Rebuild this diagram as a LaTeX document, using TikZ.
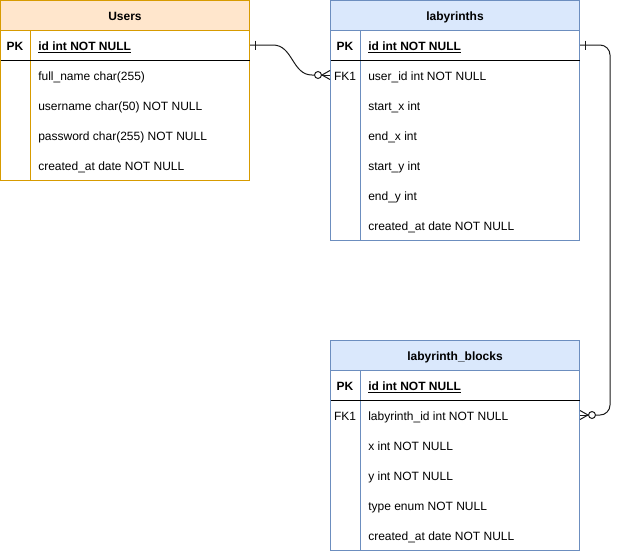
\documentclass[tikz,border=0pt]{standalone}
\usepackage{fontspec}
\setmainfont{Liberation Sans}
\usetikzlibrary{calc}
\definecolor{ufill}{HTML}{FFE6CC}
\definecolor{ubord}{HTML}{D79B00}
\definecolor{lfill}{HTML}{DAE8FC}
\definecolor{lbord}{HTML}{6C8EBF}
\definecolor{conncol}{HTML}{1A1A1A}
\begin{document}
\begin{tikzpicture}[x=0.75pt,y=-0.75pt,
  font=\fontsize{9}{11}\selectfont,
  tbox/.style={draw, line width=0.75pt, inner sep=0pt, minimum width=186.75pt},
  htxt/.style={font=\fontsize{9}{11}\selectfont\bfseries, text height=7.5pt, text depth=0pt},
  keytxt/.style={inner sep=0pt, text height=7.5pt, text depth=0pt, font=\fontsize{9}{11}\selectfont\bfseries},
  fktxt/.style={inner sep=0pt, text height=7.5pt, text depth=0pt},
  fieldtxt/.style={inner sep=0pt, anchor=west, text height=7.5pt, text depth=0pt},
  sepline/.style={line width=0.75pt},
  conn/.style={draw=conncol, line width=0.75pt},
]
\useasboundingbox (0,0) rectangle (620,551);

% ---------- Users ----------
\node[tbox, draw=ubord, minimum height=112.5pt] (ubody) at (125,105) {};
\node[tbox, draw=ubord, fill=ufill, minimum height=22.125pt] (uhead) at (125,15.25) {};
\node[htxt] (uname) at (125,15) {Users};
\draw[sepline, ubord] (30,30) -- (30,179.5);
\draw[sepline, black] (0.5,60) -- (249.5,60);
\node[keytxt] (uk1) at (15,45) {PK};
\node[fieldtxt, font=\fontsize{9}{11}\selectfont\bfseries] (u1) at (38,45) {\underline{id int NOT NULL}};
\node[fieldtxt] (u2) at (38,75) {full\_name char(255)};
\node[fieldtxt] (u3) at (38,105) {username char(50) NOT NULL};
\node[fieldtxt] (u4) at (38,135) {password char(255) NOT NULL};
\node[fieldtxt] (u5) at (38,165) {created\_at date NOT NULL};

% ---------- labyrinths ----------
\node[tbox, draw=lbord, minimum height=157.5pt] (lbody) at (455,135) {};
\node[tbox, draw=lbord, fill=lfill, minimum height=22.125pt] (lhead) at (455,15.25) {};
\node[htxt] (lname) at (455,15) {labyrinths};
\draw[sepline, lbord] (360,30) -- (360,239.5);
\draw[sepline, black] (330.5,60) -- (579.5,60);
\node[keytxt] (lk1) at (345,45) {PK};
\node[fktxt] (lk2) at (345,75) {FK1};
\node[fieldtxt, font=\fontsize{9}{11}\selectfont\bfseries] (l1) at (368,45) {\underline{id int NOT NULL}};
\node[fieldtxt] (l2) at (368,75) {user\_id int NOT NULL};
\node[fieldtxt] (l3) at (368,105) {start\_x int};
\node[fieldtxt] (l4) at (368,135) {end\_x int};
\node[fieldtxt] (l5) at (368,165) {start\_y int};
\node[fieldtxt] (l6) at (368,195) {end\_y int};
\node[fieldtxt] (l7) at (368,225) {created\_at date NOT NULL};

% ---------- labyrinth_blocks ----------
\node[tbox, draw=lbord, minimum height=135pt] (bbody) at (455,460) {};
\node[tbox, draw=lbord, fill=lfill, minimum height=22.5pt] (bhead) at (455,355) {};
\node[htxt] (bname) at (455,355) {labyrinth\_blocks};
\draw[sepline, lbord] (360,370) -- (360,550);
\draw[sepline, black] (330.5,400) -- (579.5,400);
\node[keytxt] (bk1) at (345,385) {PK};
\node[fktxt] (bk2) at (345,415) {FK1};
\node[fieldtxt, font=\fontsize{9}{11}\selectfont\bfseries] (b1) at (368,385) {\underline{id int NOT NULL}};
\node[fieldtxt] (b2) at (368,415) {labyrinth\_id int NOT NULL};
\node[fieldtxt] (b3) at (368,445) {x int NOT NULL};
\node[fieldtxt] (b4) at (368,475) {y int NOT NULL};
\node[fieldtxt] (b5) at (368,505) {type enum NOT NULL};
\node[fieldtxt] (b6) at (368,535) {created\_at date NOT NULL};

% ---------- connectors ----------
\coordinate (e1a) at (ubody.east |- u1);
\coordinate (e1b) at (lbody.west |- l2);
\coordinate (e2a) at (lbody.east |- l1);
\coordinate (e2b) at (bbody.east |- b2);

% Users.id -> labyrinths.user_id
\draw[conn] (e1a) -- ($(e1a)+(23,0)$)
  .. controls ($(e1a)+(43,0)$) and ($(e1b)+(-38,0)$) .. ($(e1b)+(-18,0)$)
  -- ($(e1b)+(-15.5,0)$);
\draw[conn] ($(e1a)+(5,-4.5)$) -- ($(e1a)+(5,4.5)$);
\draw[conn] ($(e1b)+(-12,0)$) circle[radius=2.6pt];
\draw[conn] ($(e1b)+(0,-4.5)$) -- ($(e1b)+(-8,0)$) -- ($(e1b)+(0,4.5)$);
\draw[conn] ($(e1b)+(-8,0)$) -- (e1b);

% labyrinths.id -> labyrinth_blocks.labyrinth_id
\draw[conn, rounded corners=7.5pt] (e2a) -- ($(e2a)+(30,0)$) -- ($(e2b)+(30,0)$) -- ($(e2b)+(15.5,0)$);
\draw[conn] ($(e2a)+(5,-4.5)$) -- ($(e2a)+(5,4.5)$);
\draw[conn] ($(e2b)+(12,0)$) circle[radius=2.6pt];
\draw[conn] ($(e2b)+(0,-4.5)$) -- ($(e2b)+(8,0)$) -- ($(e2b)+(0,4.5)$);
\draw[conn] ($(e2b)+(8,0)$) -- (e2b);
\end{tikzpicture}
\end{document}
